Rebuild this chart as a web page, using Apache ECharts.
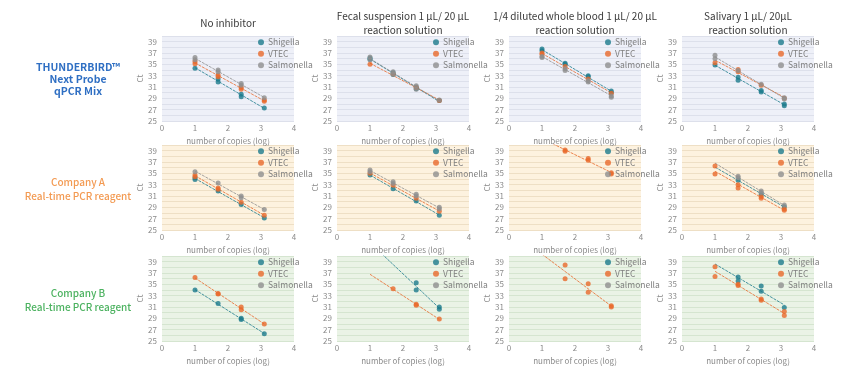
<!DOCTYPE html>
<html>
<head>
<meta charset="utf-8">
<style>
  html, body { margin: 0; padding: 0; background: #fff; }
  #chart { width: 850px; height: 377px; }
</style>
<script src="https://cdn.jsdelivr.net/npm/echarts@6.0.0/dist/echarts.min.js"></script>
</head>
<body>
<div id="chart"></div>
<script>
// x positions: log10 of copy number (10, 50, 250, 1250 copies)
const X_LOG = [1, 1.7, 2.4, 3.1];
const SERIES_NAMES = ["Shigella", "VTEC", "Salmonella"];
const COL_TITLES = [
  "No inhibitor",
  "Fecal suspension 1 µL/ 20 μL\nreaction solution",
  "1/4 diluted whole blood 1 µL/ 20 μL\nreaction solution",
  "Salivary 1 µL/ 20μL\nreaction solution"
];
const ROW_LABELS = [
  "THUNDERBIRD™\nNext Probe\nqPCR Mix",
  "Company A\nReal-time PCR reagent",
  "Company B\nReal-time PCR reagent"
];

// Ct replicates at each X_LOG point, order: Shigella, VTEC, Salmonella
const TB_NONE = [
  [[34.3], [32.4, 31.9], [29.7, 29.3], [27.3]],
  [[35.1, 35.5], [33.1, 32.8], [30.9, 30.6], [28.7, 28.5]],
  [[36.2, 35.8], [34.0, 33.7], [31.6, 31.3], [29.1]]
];
const TB_FECAL = [
  [[36.1, 35.9], [33.5, 33.2], [31.0, 30.7], [28.6]],
  [[35.0], [33.3], [30.9], [28.6]],
  [[36.3, 35.8], [33.7, 33.3], [31.2, 30.6], [28.7]]
];
const TB_BLOOD = [
  [[37.7, 37.4], [35.2, 35.0], [33.0, 32.8], [30.3, 30.0]],
  [[37.0, 36.8], [34.6], [32.4], [29.9]],
  [[36.4, 36.2], [34.2, 33.9], [32.1, 31.9], [29.4, 29.2]]
];
const TB_SALIVA = [
  [[34.9], [32.7, 32.2], [30.4, 30.1], [28.0, 27.7]],
  [[35.3], [34.1, 33.7], [31.3], [29.0]],
  [[36.6, 36.0], [33.9], [31.5], [29.1, 28.9]]
];
const A_NONE = [
  [[34.2, 33.9], [31.9], [29.5], [27.1]],
  [[34.7, 34.4], [32.4, 32.2], [29.9], [27.6]],
  [[35.3], [33.3], [31.0, 30.7], [28.6]]
];
const A_FECAL = [
  [[34.7], [32.3], [30.1], [27.6]],
  [[35.0], [32.9], [30.6], [28.3]],
  [[35.6, 35.3], [33.5, 33.2], [31.3, 31.0], [29.0, 28.7]]
];
const A_BLOOD = [
  [[], [], [], []],
  [[], [39.1, 38.9], [37.6, 37.3], [35.1, 34.9]],
  [[], [], [], []]
];
const A_SALIVA = [
  [[], [33.8], [31.3], [29.1]],
  [[36.3, 34.9], [33.0, 32.4], [30.9, 30.6], [28.7, 28.5]],
  [[], [34.5, 34.2], [31.9, 31.6], [29.4]]
];
const B_NONE = [
  [[34.0], [31.6], [29.0, 28.8], [26.3]],
  [[36.2], [33.4, 33.3], [31.0, 30.5], [28.0]],
  [[], [], [], []]
];
const B_FECAL = [
  [[], [], [35.3, 34.0], [31.0, 30.6]],
  [[], [34.2], [31.5, 31.3], [28.9]],
  [[], [], [], []]
];
const B_BLOOD = [
  [[], [], [], []],
  [[], [38.4, 36.0], [35.1, 33.6], [31.2, 31.0]],
  [[], [], [], []]
];
const B_SALIVA = [
  [[], [36.3, 35.6], [34.7, 33.8], [30.9]],
  [[38.1, 36.4], [35.0, 34.8], [32.4, 32.2], [30.2, 29.5]],
  [[], [], [], []]
];

const PANELS = [
  [TB_NONE, TB_FECAL, TB_BLOOD, TB_SALIVA],
  [A_NONE, A_FECAL, A_BLOOD, A_SALIVA],
  [B_NONE, B_FECAL, B_BLOOD, B_SALIVA]
];

// layout / style
const COL_LEFT = [162, 337, 509, 682];
const ROW_TOP = [36, 145, 256];
const PLOT_W = 132, PLOT_H = 85;
const ROW_BG = ["#eef0f8", "#fdf2df", "#eaf3e6"];
const ROW_GRID = ["#dde0eb", "#eedfc5", "#d5e5d0"];
const ROW_COLOR = ["#2f6fc3", "#f39a52", "#4cb260"];
const COLORS = ["#1b7b8c", "#e8692b", "#8e8e8e"];
const FONT = "Noto Sans CJK JP";

// least squares line through the points (like the Excel trendline)
function fitLine(pts) {
  var n = pts.length, sx = 0, sy = 0, sxx = 0, sxy = 0;
  pts.forEach(function (p) { sx += p[0]; sy += p[1]; sxx += p[0] * p[0]; sxy += p[0] * p[1]; });
  var b = (n * sxy - sx * sy) / (n * sxx - sx * sx);
  var a = (sy - b * sx) / n;
  return { a: a, b: b };
}

var grid = [], xAxis = [], yAxis = [], series = [], legend = [], graphic = [];

PANELS.forEach(function (row, r) {
  row.forEach(function (panel, c) {
    var i = grid.length;
    grid.push({
      left: COL_LEFT[c], top: ROW_TOP[r], width: PLOT_W, height: PLOT_H,
      show: true, backgroundColor: ROW_BG[r], borderWidth: 0
    });
    xAxis.push({
      gridIndex: i, type: "value", min: 0, max: 4, interval: 1,
      name: "number of copies (log)", nameLocation: "middle", nameGap: 16,
      nameTextStyle: { fontSize: 8, color: "#8a8a8a", fontFamily: FONT },
      axisLine: { show: false }, axisTick: { show: false }, splitLine: { show: false },
      axisLabel: { fontSize: 8, color: "#8a8a8a", margin: 3, fontFamily: FONT }
    });
    yAxis.push({
      gridIndex: i, type: "value", min: 25, max: 40, interval: 1,
      name: "Ct", nameLocation: "middle", nameGap: 17, nameRotate: 90,
      nameTextStyle: { fontSize: 8, color: "#8a8a8a", fontFamily: FONT },
      axisLine: { show: false }, axisTick: { show: false },
      splitLine: { show: true, lineStyle: { color: ROW_GRID[r], width: 1 } },
      axisLabel: {
        fontSize: 8, color: "#8a8a8a", margin: 5, fontFamily: FONT,
        formatter: function (v) { return v % 2 === 1 && v < 40 ? v : ""; }
      }
    });
    legend.push({
      data: SERIES_NAMES, orient: "vertical",
      left: COL_LEFT[c] + 96, top: ROW_TOP[r] + 2,
      icon: "circle", itemWidth: 6, itemHeight: 6, itemGap: 3, padding: 0,
      selectedMode: false,
      textStyle: { fontSize: 8.5, color: "#7f7f7f", fontFamily: FONT, padding: [0, 0, 0, -1] }
    });

    panel.forEach(function (reps, s) {
      var pts = [];
      reps.forEach(function (list, k) {
        list.forEach(function (ct) { pts.push([X_LOG[k], ct]); });
      });
      series.push({
        type: "scatter", name: SERIES_NAMES[s], xAxisIndex: i, yAxisIndex: i,
        data: pts, symbolSize: 5, itemStyle: { color: COLORS[s] }, z: 3
      });
      if (pts.length > 1) {
        var f = fitLine(pts);
        var xEnd = Math.max.apply(null, pts.map(function (p) { return p[0]; }));
        series.push({
          type: "line", name: SERIES_NAMES[s] + " trend", xAxisIndex: i, yAxisIndex: i,
          data: [[1, f.a + f.b * 1], [xEnd, f.a + f.b * xEnd]],
          symbol: "none", silent: true, z: 2,
          lineStyle: { color: COLORS[s], width: 1, type: [3, 1], opacity: 0.8 }
        });
      }
    });
  });
});

COL_TITLES.forEach(function (t, c) {
  graphic.push({
    type: "text", x: COL_LEFT[c] + PLOT_W / 2, y: 23,
    style: {
      text: t, textAlign: "center", textVerticalAlign: "middle",
      fontSize: 10, lineHeight: 14, fontFamily: FONT, fill: "#3a3a3a"
    }
  });
});
var rowCenters = [79, 189, 300];
ROW_LABELS.forEach(function (t, r) {
  graphic.push({
    type: "text", x: 78, y: rowCenters[r],
    style: {
      text: t, textAlign: "center", textVerticalAlign: "middle",
      fontSize: r === 0 ? 10.5 : 10, lineHeight: r === 0 ? 12 : 14,
      fontWeight: r === 0 ? "bold" : 500, fontFamily: FONT, fill: ROW_COLOR[r]
    }
  });
});

var chart = echarts.init(document.getElementById("chart"));
chart.setOption({
  animation: false,
  textStyle: { fontFamily: FONT },
  grid: grid, xAxis: xAxis, yAxis: yAxis,
  legend: legend, graphic: graphic, series: series
});
</script>
</body>
</html>
